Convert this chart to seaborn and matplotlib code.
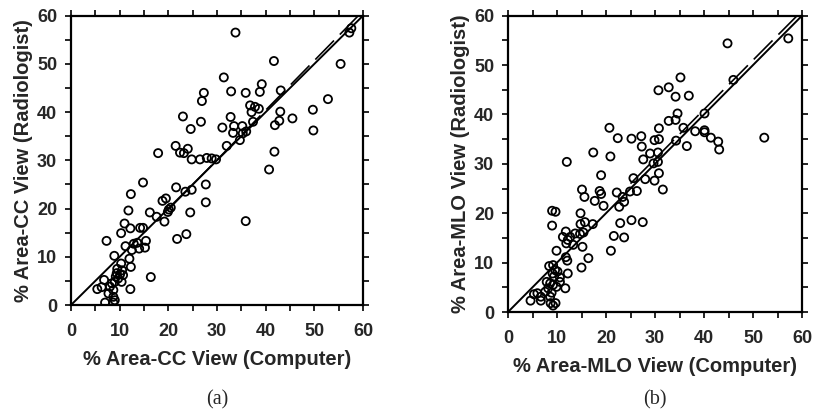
import seaborn as sns
import pandas as pd
import numpy as np
import matplotlib
matplotlib.use('Agg')
import matplotlib.pyplot as plt
from matplotlib.ticker import MultipleLocator

#############################################################################
# data
#############################################################################
cc_computer = [33.8, 41.7, 31.4, 39.2, 27.3, 32.9, 35.9, 38.8, 43.1, 26.9, 36.8, 37.8, 38.6, 37.1,
               43.0, 49.7, 23.0, 32.8, 26.7, 42.8, 45.5, 41.9, 37.4, 24.6, 31.1, 33.5, 35.2, 33.3,
               35.3, 36.0, 34.7, 49.8, 32.0, 41.8, 21.5, 17.9, 22.4, 23.2, 24.0, 24.8, 26.5, 27.9,
               28.9, 29.8, 57.6, 57.2, 55.4, 52.8,
               40.7, 14.8, 12.3, 21.6, 27.7, 24.8, 23.5, 18.8, 19.5, 27.7, 11.8, 16.2, 20.1, 20.5,
               19.9, 17.6, 24.5, 11.0, 19.2, 35.9, 10.3, 12.2, 14.2, 14.8, 7.3, 15.4, 21.8, 23.7,
               11.2, 12.9, 13.6, 12.5, 14.0, 15.2, 8.9, 12.0, 10.3, 12.3, 16.4, 9.4, 10.1, 10.7,
               9.7, 9.0, 8.4, 10.4, 6.8, 5.4, 6.3, 8.0, 8.7, 7.7, 12.2, 8.7, 9.0, 7.0, 8.7,
               9.5, 10.5, 9.2]
cc_radiologist = [56.5, 50.6, 47.2, 45.8, 44.0, 44.3, 44.0, 44.2, 44.5, 42.3, 41.4, 41.1, 40.7, 40.0,
                  40.1, 40.5, 39.1, 39.0, 38.0, 38.2, 38.7, 37.3, 38.0, 36.5, 36.8, 37.1, 37.1, 35.7,
                  35.6, 36.0, 34.2, 36.2, 33.0, 31.8, 33.0, 31.5, 31.6, 31.5, 32.4, 30.2, 30.2, 30.5,
                  30.4, 30.2, 57.4, 56.5, 50.0, 42.7,
                  28.1, 25.4, 23.0, 24.4, 25.0, 23.9, 23.5, 21.6, 22.1, 21.3, 19.6, 19.2, 19.8, 20.2,
                  19.3, 18.3, 19.2, 16.9, 17.3, 17.4, 14.9, 15.9, 16.0, 16.0, 13.3, 13.3, 13.7, 14.7,
                  12.2, 12.7, 12.9, 11.4, 11.7, 11.9, 10.2, 9.6, 8.6, 7.9, 5.8, 6.6, 6.4, 6.2,
                  5.5, 4.8, 4.5, 4.8, 5.2, 3.3, 3.7, 3.8, 3.1, 2.4, 3.3, 1.7, 1.0, 0.5, 0.5,
                  7.5, 7.2, 5.9]

mlo_computer = [35.2, 30.7, 32.8, 34.2, 36.9, 34.6, 40.1, 20.7, 30.8, 32.8, 34.2, 35.8, 38.2, 40.1,
                40.1, 41.4, 22.4, 25.2, 27.2, 27.3, 29.9, 30.8, 34.3, 36.5, 42.9, 43.1, 17.4, 20.9,
                12.0, 29.0, 30.6, 27.6, 44.8, 57.2, 46.0, 52.3,
                19.0, 25.6, 28.0, 29.9, 30.8, 29.7, 30.6, 31.6, 15.1, 15.6, 18.7, 19.0, 17.7, 19.5,
                22.2, 23.4, 24.9, 26.3, 23.7, 22.7, 9.0, 9.7, 9.0, 14.8, 14.8, 15.7, 17.3, 22.9,
                25.2, 27.5, 11.8, 11.2, 12.7, 13.7, 11.9, 13.3, 12.2, 14.7, 15.4, 15.2, 21.6, 23.7,
                21.0, 9.9, 11.8, 12.1, 16.4, 15.0, 8.4, 9.2, 9.6, 10.1, 9.1, 10.6, 9.4, 12.2,
                10.6, 7.9, 8.6, 9.2, 9.9, 11.7, 8.2, 7.6, 8.9, 8.6, 5.3, 6.0, 6.7, 4.6, 6.7,
                8.7, 9.7, 9.2]
mlo_radiologist = [47.5, 44.9, 45.5, 43.6, 43.8, 40.2, 40.2, 37.3, 37.2, 38.7, 38.9, 37.3, 36.6, 36.8,
                   36.4, 35.3, 35.2, 35.1, 35.6, 33.5, 34.8, 35.0, 34.7, 33.6, 34.5, 32.9, 32.3, 31.5,
                   30.4, 32.1, 32.3, 30.9, 54.4, 55.4, 47.0, 35.3,
                   27.7, 27.1, 26.9, 26.6, 28.1, 30.1, 30.4, 24.8, 24.8, 23.3, 24.5, 23.9, 22.5, 21.5,
                   24.2, 23.3, 24.4, 24.5, 22.3, 21.3, 20.5, 20.3, 17.5, 20.0, 17.8, 18.2, 17.8, 18.0,
                   18.6, 18.2, 16.3, 15.2, 15.2, 15.9, 13.9, 13.6, 14.6, 15.8, 16.1, 13.2, 15.4, 15.1,
                   12.4, 12.4, 11.1, 10.4, 10.9, 9.0, 9.3, 9.5, 8.5, 8.2, 7.8, 7.0, 7.2, 7.8,
                   6.1, 6.1, 5.8, 5.5, 5.1, 4.8, 4.8, 4.1, 3.9, 3.1, 3.6, 3.8, 3.1, 2.3, 2.3,
                   1.8, 1.8, 1.3]

# fitted (dashed) lines: slope, intercept, x range
cc_fit = (1.03, -0.8, 20, 59.0)
mlo_fit = (1.0, 1.0, 25, 59.0)

x_labels = ['% Area-CC View (Computer)', '% Area-MLO View (Computer)']
y_labels = ['% Area-CC View (Radiologist)', '% Area-MLO View (Radiologist)']
panel_tags = ['(a)', '(b)']

#############################################################################
# figure
#############################################################################
sns.set_style('white')
plt.rcParams['font.family'] = ['Liberation Sans', 'DejaVu Sans']

fig = plt.figure(figsize=(8.14, 4.19), dpi=100)
W, H = 814.0, 419.0
ax_a = fig.add_axes([71 / W, (H - 305) / H, 292 / W, 289.3 / H])
ax_b = fig.add_axes([508 / W, (H - 312) / H, 294 / W, 296.3 / H])

panels = [(ax_a, cc_computer, cc_radiologist, cc_fit),
          (ax_b, mlo_computer, mlo_radiologist, mlo_fit)]

for i, (ax, xs, ys, fit) in enumerate(panels):
    df = pd.DataFrame({'computer': xs, 'radiologist': ys})
    # identity line
    ax.plot([0, 60], [0, 60], color='black', lw=1.4, zorder=1)
    # regression line (dashed)
    slope, icpt, x0, x1 = fit
    xf = np.array([x0, x1])
    ax.plot(xf, slope * xf + icpt, color='black', lw=1.2, dashes=(16, 5), zorder=1)
    sns.scatterplot(data=df, x='computer', y='radiologist', ax=ax, marker='o', s=34,
                    facecolor='none', edgecolor='black', linewidth=1.3, zorder=2)

    ax.set_xlim(0, 60)
    ax.set_ylim(0, 60)
    ax.xaxis.set_major_locator(MultipleLocator(10))
    ax.yaxis.set_major_locator(MultipleLocator(10))
    ax.xaxis.set_minor_locator(MultipleLocator(5))
    ax.yaxis.set_minor_locator(MultipleLocator(5))
    ax.tick_params(which='both', direction='out', length=4, width=1.2, color='black',
                   top=True, right=True, bottom=True, left=True)
    ax.tick_params(which='major', labelsize=13, pad=9)
    ax.tick_params(axis='y', which='major', pad=6)
    for lab in ax.get_xticklabels() + ax.get_yticklabels():
        lab.set_fontweight('bold')
    for sp in ax.spines.values():
        sp.set_linewidth(1.6)
        sp.set_color('black')
    ax.set_xlabel(x_labels[i], fontsize=14.5, fontweight='bold', labelpad=7)
    ax.set_ylabel(y_labels[i], fontsize=14.5, fontweight='bold', labelpad=3)

    pos = ax.get_position()
    fig.text(pos.x0 + pos.width / 2, 0.045, panel_tags[i], ha='center', va='center',
             fontsize=14.5, family='Liberation Serif')

plt.savefig('out.png', dpi=100)
